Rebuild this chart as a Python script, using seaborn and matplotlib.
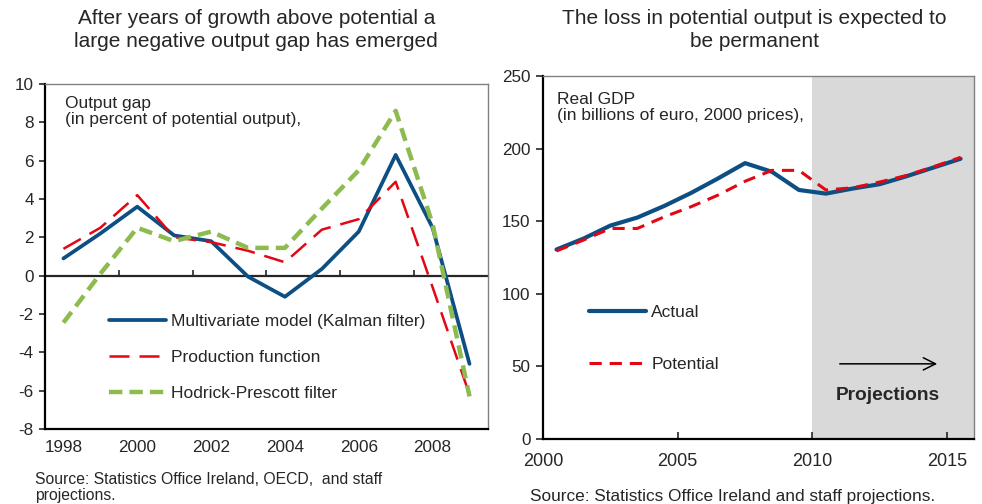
import numpy as np
import pandas as pd
import seaborn as sns
import matplotlib
matplotlib.use("Agg")
from matplotlib import pyplot as plt

# left panel: output gap estimates, in percent of potential output
gap_years = list(range(1998, 2010))
kalman = [0.9, 2.2, 3.6, 2.1, 1.8, -0.05, -1.1, 0.35, 2.3, 6.3, 2.5, -4.6]
prod_func = [1.4, 2.5, 4.2, 2.0, 1.75, 1.3, 0.7, 2.4, 2.95, 4.9, -0.6, -6.2]
hp_filter = [-2.45, 0.1, 2.5, 1.8, 2.3, 1.45, 1.45, 3.5, 5.5, 8.6, 2.7, -6.3]
gap_ticks = [1998, 2000, 2002, 2004, 2006, 2008]

# right panel: real GDP, billions of euro (2000 prices)
gdp_years = list(range(2000, 2016))
actual = [130.5, 138, 147, 152.5, 160.5, 169.5, 179.5, 190, 184, 171.5,
          169, 172.5, 175.5, 181, 187, 193]
potential = [129.5, 137, 145, 145, 153, 160, 168, 177.5, 185, 185,
             171.5, 173, 177, 181.5, 187.5, 194]
gdp_ticks = [2000, 2005, 2010, 2015]

sns.set_style("white")
plt.rcParams['font.family'] = ['Liberation Sans', 'DejaVu Sans']
plt.rcParams['axes.unicode_minus'] = False

BLUE = '#0d4f83'
RED = '#e30613'
GREEN = '#8dbb4f'

fig = plt.figure(figsize=(9.82, 5.04), dpi=100)
ax1 = fig.add_axes([0.0458, 0.1488, 0.4511, 0.6845])
ax2 = fig.add_axes([0.553, 0.129, 0.4389, 0.7202])

# ---- left chart
sns.lineplot(x=gap_years, y=kalman, ax=ax1, color=BLUE, lw=2.7,
             label='Multivariate model (Kalman filter)')
sns.lineplot(x=gap_years, y=prod_func, ax=ax1, color=RED, lw=1.8,
             ls=(0, (8, 4)), label='Production function')
sns.lineplot(x=gap_years, y=hp_filter, ax=ax1, color=GREEN, lw=3.2,
             ls=(0, (3, 1.6)), label='Hodrick-Prescott filter')
ax1.set_xlim(1997.5, 2009.5)
ax1.set_ylim(-8, 10)
ax1.set_yticks(range(-8, 11, 2))
ax1.set_xticks(gap_ticks)
ax1.tick_params(axis='x', length=0, pad=8, labelsize=12.3)
ax1.tick_params(axis='y', direction='out', length=4, width=1.2, pad=4,
                labelsize=12.3, left=True)

# zero line with the year-boundary tick marks
zero_ax = ax1.secondary_xaxis(8 / 18)
zero_ax.set_xticks([1999.5, 2001.5, 2003.5, 2005.5, 2007.5])
zero_ax.tick_params(direction='in', length=4, width=1.2, labelbottom=False)
zero_ax.spines['bottom'].set_linewidth(1.6)

ax1.text(0.045, 0.965, 'Output gap\n(in percent of potential output),',
         transform=ax1.transAxes, va='top', ha='left', fontsize=12.5,
         linespacing=1.05)
ax1.legend(frameon=False, loc='upper left', bbox_to_anchor=(0.128, 0.354),
           fontsize=12.5, handlelength=3.3, handletextpad=0.3,
           labelspacing=1.2, borderaxespad=0)

# ---- right chart
ax2.axvspan(2010, 2016, color='#d9d9d9', lw=0, zorder=0)
sns.lineplot(x=np.array(gdp_years) + 0.5, y=actual, ax=ax2, color=BLUE,
             lw=3.0, label='Actual')
sns.lineplot(x=np.array(gdp_years) + 0.5, y=potential, ax=ax2, color=RED,
             lw=2.2, ls=(0, (4, 2.6)), label='Potential')
ax2.set_xlim(2000, 2016)
ax2.set_ylim(0, 250)
ax2.set_xticks(gdp_ticks)
ax2.set_yticks(range(0, 251, 50))
ax2.tick_params(axis='x', direction='in', length=5, width=1.2, pad=10,
                labelsize=13, bottom=True)
ax2.tick_params(axis='y', direction='out', length=5, width=1.2, pad=4,
                labelsize=12.3, left=True)
ax2.text(0.032, 0.955, 'Real GDP\n(in billions of euro, 2000 prices),',
         transform=ax2.transAxes, va='top', ha='left', fontsize=12.5,
         linespacing=1.05)
ax2.legend(frameon=False, loc='upper left', bbox_to_anchor=(0.09, 0.388),
           fontsize=12.5, handlelength=3.3, handletextpad=0.3,
           labelspacing=2.1, borderaxespad=0)
ax2.annotate('', xy=(0.921, 0.207), xytext=(0.682, 0.207),
             xycoords='axes fraction',
             arrowprops=dict(arrowstyle='->', color='black', lw=1.1,
                             mutation_scale=22))
ax2.text(0.80, 0.121, 'Projections', transform=ax2.transAxes,
         ha='center', va='center', fontsize=13.8, fontweight='bold')

for ax in (ax1, ax2):
    ax.set_xlabel('')
    ax.set_ylabel('')
    for side in ('left', 'bottom'):
        ax.spines[side].set_color('black')
        ax.spines[side].set_linewidth(1.6)
    for side in ('top', 'right'):
        ax.spines[side].set_color('#808080')
        ax.spines[side].set_linewidth(1.0)
        ax.spines[side].set_visible(True)

fig.text(0.261, 0.982, 'After years of growth above potential a\n'
         'large negative output gap has emerged', ha='center', va='top',
         fontsize=15, linespacing=1.28)
fig.text(0.768, 0.982, 'The loss in potential output is expected to\n'
         'be permanent', ha='center', va='top', fontsize=15,
         linespacing=1.28)
fig.text(0.036, 0.002, 'Source: Statistics Office Ireland, OECD,  and staff\n'
         'projections.', ha='left', va='bottom', fontsize=11.3,
         linespacing=1.12)
fig.text(0.54, 0.0, 'Source: Statistics Office Ireland and staff projections.',
         ha='left', va='bottom', fontsize=12.4)

fig.savefig('out.png', dpi=100)
